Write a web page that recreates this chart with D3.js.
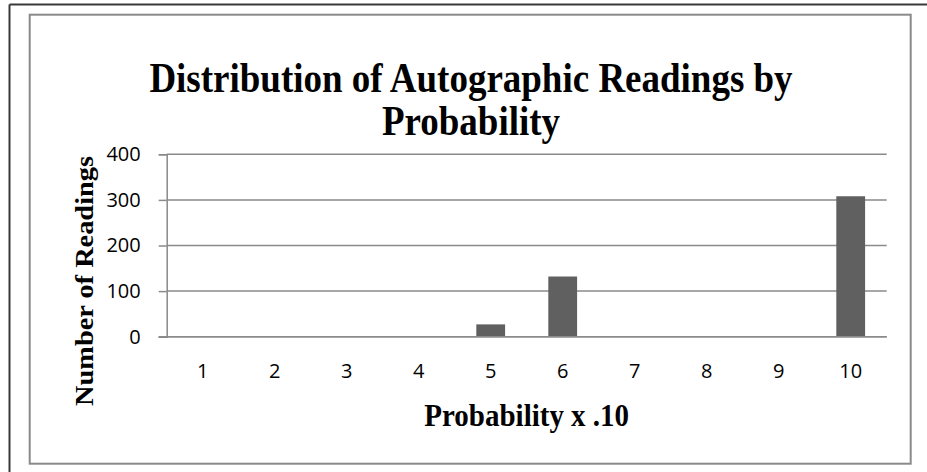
<!DOCTYPE html>
<html><head><meta charset="utf-8">
<script src="https://cdn.jsdelivr.net/npm/d3@7"></script>
<style>body{margin:0;background:#fff}svg{display:block}</style>
</head><body>
<svg id="c" width="927" height="472"></svg>
<script>
const categories = ["1","2","3","4","5","6","7","8","9","10"];
const readings = [0,0,1,0,27,132,0,0,0,308];
const yTicks = [0,100,200,300,400];
const titleLines = ["Distribution of Autographic Readings by","Probability"];
const xTitle = "Probability x .10";
const yTitle = "Number of Readings";

(function(){
const svg = d3.select("#c");
svg.append("line").attr("x1",9.5).attr("y1",4.5).attr("x2",927).attr("y2",4.5).attr("stroke","#3a3a3a").attr("stroke-width",2);
svg.append("line").attr("x1",9.5).attr("y1",4.5).attr("x2",9.5).attr("y2",472).attr("stroke","#3a3a3a").attr("stroke-width",2);
svg.append("rect").attr("x",29.7).attr("y",14.7).attr("width",881).attr("height",449)
  .attr("fill","#fff").attr("stroke","#8a8a8a").attr("stroke-width",2);

const pL=166.7, pR=886.7, pT=154.3, pB=336.7;
const x = d3.scaleBand().domain(categories).range([pL,pR]).paddingInner(0.6).paddingOuter(0.3);
const y = d3.scaleLinear().domain([0,400]).range([pB,pT]);

svg.append("g").selectAll("line").data(yTicks).join("line")
  .attr("x1",pL).attr("x2",pR).attr("y1",d=>y(d)).attr("y2",d=>y(d))
  .attr("stroke","#8a8a8a").attr("stroke-width",1.5);

const ya = svg.append("g").attr("transform",`translate(${pL},0)`)
  .call(d3.axisLeft(y).tickValues(yTicks).tickSize(8).tickPadding(18));
ya.select(".domain").attr("stroke","#8a8a8a").attr("stroke-width",1.5);
ya.selectAll(".tick line").attr("stroke","#8a8a8a").attr("stroke-width",1.5);
ya.selectAll("text").attr("font-family","'Open Sans',sans-serif").attr("font-size",20).attr("fill","#000");

svg.append("g").selectAll("rect").data(readings).join("rect")
  .attr("x",(d,i)=>x(categories[i])).attr("width",x.bandwidth())
  .attr("y",d=>y(d)).attr("height",d=>pB-y(d))
  .attr("fill","#606060");

const xa = svg.append("g").attr("transform",`translate(0,${pB})`)
  .call(d3.axisBottom(x).tickSize(0).tickPadding(27));
xa.select(".domain").attr("d",`M${pL-8},0H${pR}`).attr("stroke","#8a8a8a").attr("stroke-width",1.5);
xa.selectAll("text").attr("font-family","'Open Sans',sans-serif").attr("font-size",20).attr("fill","#000");

const tf = "'Liberation Serif','Times New Roman',serif";
const title = svg.append("text").attr("transform",`translate(471,92) scale(1,1.12)`)
  .attr("text-anchor","middle").attr("font-family",tf).attr("font-weight","bold").attr("font-size",37);
title.selectAll("tspan").data(titleLines).join("tspan")
  .attr("x",0).attr("y",(d,i)=>i*38.5).text(d=>d);
svg.append("text").attr("transform",`translate(526.7,426) scale(1,1.1)`).attr("text-anchor","middle")
  .attr("font-family",tf).attr("font-weight","bold").attr("font-size",29).text(xTitle);
svg.append("text").attr("transform","translate(93,281) rotate(-90)").attr("text-anchor","middle")
  .attr("font-family",tf).attr("font-weight","bold").attr("font-size",25)
  .attr("textLength",250).attr("lengthAdjust","spacingAndGlyphs").text(yTitle);
})();
</script>
</body></html>
